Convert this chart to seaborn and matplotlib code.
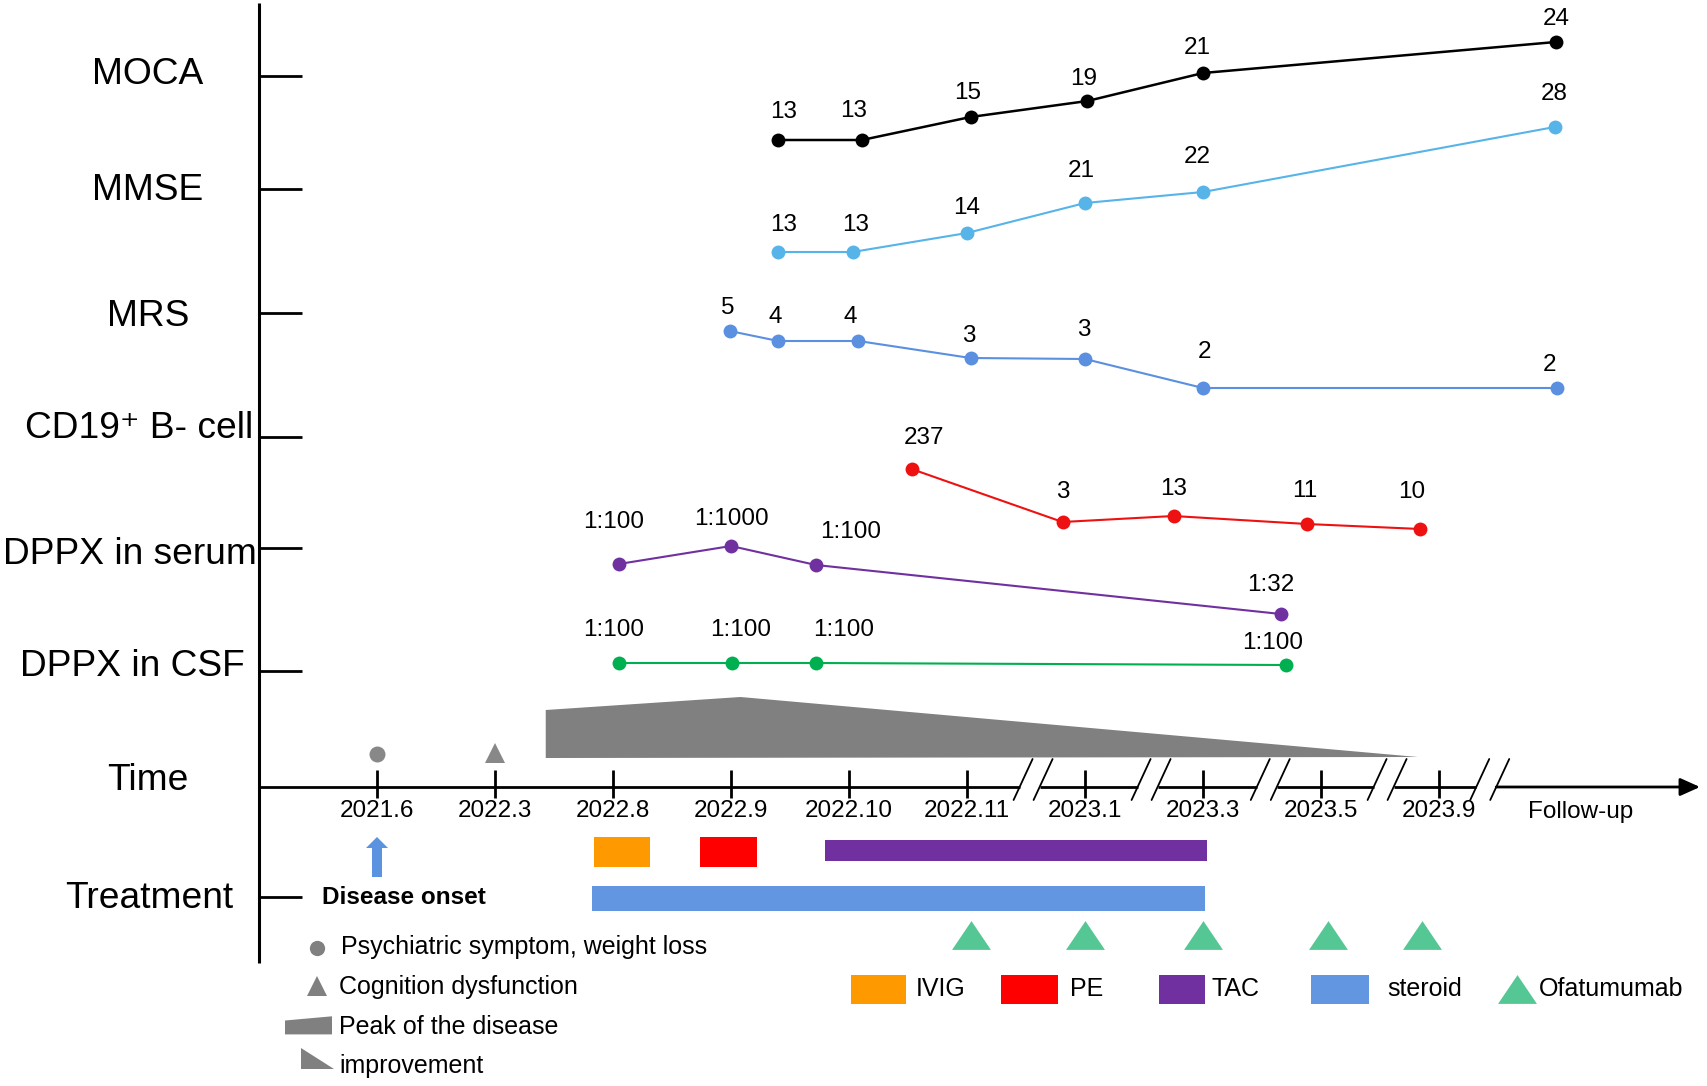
import numpy as np
import pandas as pd
import matplotlib
matplotlib.use('Agg')
import matplotlib.pyplot as plt
from matplotlib.patches import Rectangle, Polygon
import seaborn as sns

# ---- data ----
# timeline: one step per tick, 0 = 2021.6
time_labels = ['2021.6', '2022.3', '2022.8', '2022.9', '2022.10', '2022.11',
               '2023.1', '2023.3', '2023.5', '2023.9']
followup_at = 10.2
break_at = [5.56, 6.56, 7.57, 8.56, 9.43]

row_names = ['MOCA', 'MMSE', 'MRS', 'CD19⁺ B- cell', 'DPPX in serum',
             'DPPX in CSF', 'Time', 'Treatment']

# each series: time on the timeline, printed value, drawn height (px from top)
moca_t = [3.40, 4.11, 5.03, 6.02, 7.00, 9.99]
moca_v = ['13', '13', '15', '19', '21', '24']
moca_h = [140, 140, 117, 101, 73, 42]

mmse_t = [3.40, 4.03, 5.00, 6.00, 7.00, 9.98]
mmse_v = ['13', '13', '14', '21', '22', '28']
mmse_h = [252, 252, 233, 203, 192, 127]

mrs_t = [2.99, 3.40, 4.08, 5.03, 6.00, 7.00, 10.00]
mrs_v = ['5', '4', '4', '3', '3', '2', '2']
mrs_h = [331, 341, 341, 358, 359, 388, 388]

cd19_t = [4.53, 5.81, 6.75, 7.88, 8.84]
cd19_v = ['237', '3', '13', '11', '10']
cd19_h = [469, 522, 516, 524, 529]

serum_t = [2.05, 3.00, 3.72, 7.66]
serum_v = ['1:100', '1:1000', '1:100', '1:32']
serum_h = [564, 546, 565, 614]

csf_t = [2.05, 3.01, 3.72, 7.70]
csf_v = ['1:100', '1:100', '1:100', '1:100']
csf_h = [663, 663, 663, 665]

# disease course (peak then improvement)
course_t = [1.43, 3.08, 8.82]
course_top = [710, 697, 757]

# symptoms before treatment
event_t = [0, 1]
event_names = ['Psychiatric symptom, weight loss', 'Cognition dysfunction']

# treatments
treat_names = ['IVIG', 'PE', 'TAC', 'steroid']
treat_start = [1.84, 2.74, 3.80, 1.82]
treat_end = [2.31, 3.22, 7.03, 7.02]
ofa_t = [5.03, 6.00, 7.00, 8.06, 8.86]

# ---- layout ----
W, H = 1707, 1086
X0, DX = 377, 118          # pixel of 2021.6 tick, pixels per timeline step
row_y = [76, 189, 313, 437, 548, 671, 787, 897]
label_x = [148, 148, 148, 139, 130, 132, 148, 149]
label_y = [75, 191, 317, 429, 555, 666, 781, 899]
axis_y = 787

series = [
    (moca_t, moca_h, moca_v, 'black', 1.8, [5, -8, -3, -4, -6, 0], [28, 29, 24, 22, 25, 23]),
    (mmse_t, mmse_h, mmse_v, '#56B4E9', 1.5, [5, 3, 0, -4, -6, 0], [27, 27, 25, 32, 35, 33]),
    (mrs_t, mrs_h, mrs_v, '#5B8FE0', 1.5, [-2, -3, -8, -2, -1, 1, -8], [23, 24, 24, 22, 29, 36, 23]),
    (cd19_t, cd19_h, cd19_v, '#EE1111', 1.5, [12, 0, 0, -2, -8], [31, 30, 27, 33, 37]),
    (serum_t, serum_h, serum_v, '#7030A0', 1.5, [-5, 0, 35, -10], [42, 27, 33, 29]),
    (csf_t, csf_h, csf_v, '#00B050', 1.5, [-5, 8, 28, -13], [33, 33, 33, 22]),
]
treat_colors = ['#FF9900', '#FF0000', '#7030A0', '#6296E1']
treat_y = [852, 852, 850, 898]
treat_hgt = [30, 30, 21, 25]
ofa_color = '#55C795'
gray = '#808080'

sns.set_theme(style='white')
plt.rcParams['font.family'] = ['Liberation Sans', 'DejaVu Sans']
plt.rcParams['text.color'] = 'black'

fig = plt.figure(figsize=(W / 100, H / 100), dpi=100)
ax = fig.add_axes([0, 0, 1, 1])      # x: timeline steps, y: pixels from top
ax.set_xlim(-X0 / DX, (W - X0) / DX)
ax.set_ylim(H, 0)
ax.axis('off')
lay = fig.add_axes([0, 0, 1, 1])     # plain pixel frame for labels/legend
lay.set_xlim(0, W)
lay.set_ylim(H, 0)
lay.axis('off')
lay.patch.set_alpha(0)

# vertical axis with row ticks
lay.plot([258.5, 258.5], [3, 963], color='black', lw=2.2, solid_capstyle='butt')
for i, (name, y) in enumerate(zip(row_names, row_y)):
    if name != 'Time':
        lay.plot([259, 302], [y, y], color='black', lw=2.0, solid_capstyle='butt')
    lay.text(label_x[i], label_y[i], name, fontsize=26.7, ha='center', va='center')

# series lines with value labels
for t, h, v, c, lw, ldx, ldy in series:
    sns.lineplot(x=t, y=h, ax=ax, color=c, linewidth=lw, marker='o',
                 markersize=10, markeredgewidth=0, sort=False)
    for x, y, s, dx, dy in zip(t, h, v, ldx, ldy):
        ax.annotate(s, (x, y), xytext=(dx, dy), textcoords='offset pixels',
                    ha='center', va='center', fontsize=17.5)

# disease course shape
base = 758
ax.fill([course_t[0], course_t[0], course_t[1], course_t[2]],
        [base, course_top[0], course_top[1], course_top[2]], color=gray, lw=0)

# symptom events
ax.plot(event_t[0], 754, 'o', color='#888888', ms=11.5, mew=0)
ax.plot(event_t[1], 753, '^', color='#888888', ms=14.4, mew=0)

# time axis with breaks
pts = [(259 - X0) / DX]
for c in break_at:
    pts += [c - 13.5 / DX, c + 6.5 / DX]
for a, b in zip(pts[0::2], pts[1::2]):
    ax.plot([a, b], [axis_y, axis_y], color='black', lw=2.0, solid_capstyle='butt')
ax.annotate('', xy=((1700 - X0) / DX, axis_y), xytext=(pts[-1], axis_y),
            arrowprops=dict(arrowstyle='-|>,head_length=1.0,head_width=0.45',
                            lw=2.0, color='black', shrinkA=0, shrinkB=0))
for c in break_at:
    for off in (-10, 10):
        ax.plot([c + (off - 9.5) / DX, c + (off + 9.5) / DX], [800, 759],
                color='black', lw=1.3)
ax.vlines(range(len(time_labels)), 770, 798, color='black', lw=2.0)
for i, s in enumerate(time_labels):
    ax.text(i, 811, s, fontsize=17.5, ha='center', va='center')
ax.text(followup_at, 812, 'Follow-up', fontsize=17.5, ha='center', va='center')

# disease onset arrow
ax.arrow(event_t[0], 877, 0, -40, width=10 / DX, head_width=22 / DX,
         head_length=11, length_includes_head=True, color='#5B93E0', lw=0)
lay.text(322, 897, 'Disease onset', fontsize=17.5, fontweight='bold', va='center')

# treatment bars and ofatumumab doses
for s, e, c, y, hh in zip(treat_start, treat_end, treat_colors, treat_y, treat_hgt):
    ax.barh(y, e - s, left=s, height=hh, color=c, lw=0)
tri = [(-1, -0.74), (1, -0.74), (0, 0.74), (-1, -0.74)]
ax.scatter(ofa_t, [935] * len(ofa_t), marker=tri, s=28 ** 2, color=ofa_color, lw=0)

# left legend
lay.plot(317, 948, 'o', color=gray, ms=11, mew=0)
lay.plot(317, 986, '^', color=gray, ms=14, mew=0)
lay.add_patch(Polygon([(285, 1020.5), (332, 1016.3), (332, 1034.4), (285, 1034.4)],
                      color=gray, lw=0))
lay.add_patch(Polygon([(300.6, 1048.4), (300.6, 1069.2), (333.5, 1069.2)],
                      color=gray, lw=0))
left_txt = event_names + ['Peak of the disease', 'improvement']
for s, y, x in zip(left_txt, [947, 987, 1027, 1066], [341, 339, 339, 339]):
    lay.text(x, y, s, fontsize=18, va='center')

# bottom legend
sw_x = [(851, 906), (1001, 1058), (1159, 1205), (1311, 1369)]
txt_x = [916, 1070, 1211, 1387]
for (a, b), c, tx, s in zip(sw_x, treat_colors, txt_x, treat_names):
    lay.add_patch(Rectangle((a, 975), b - a, 29, color=c, lw=0))
    lay.text(tx, 989, s, fontsize=18, va='center')
lay.scatter([1517], [989], marker=tri, s=28 ** 2, color=ofa_color, lw=0)
lay.text(1539, 989, 'Ofatumumab', fontsize=18, va='center')

fig.savefig('out.png', dpi=100)
